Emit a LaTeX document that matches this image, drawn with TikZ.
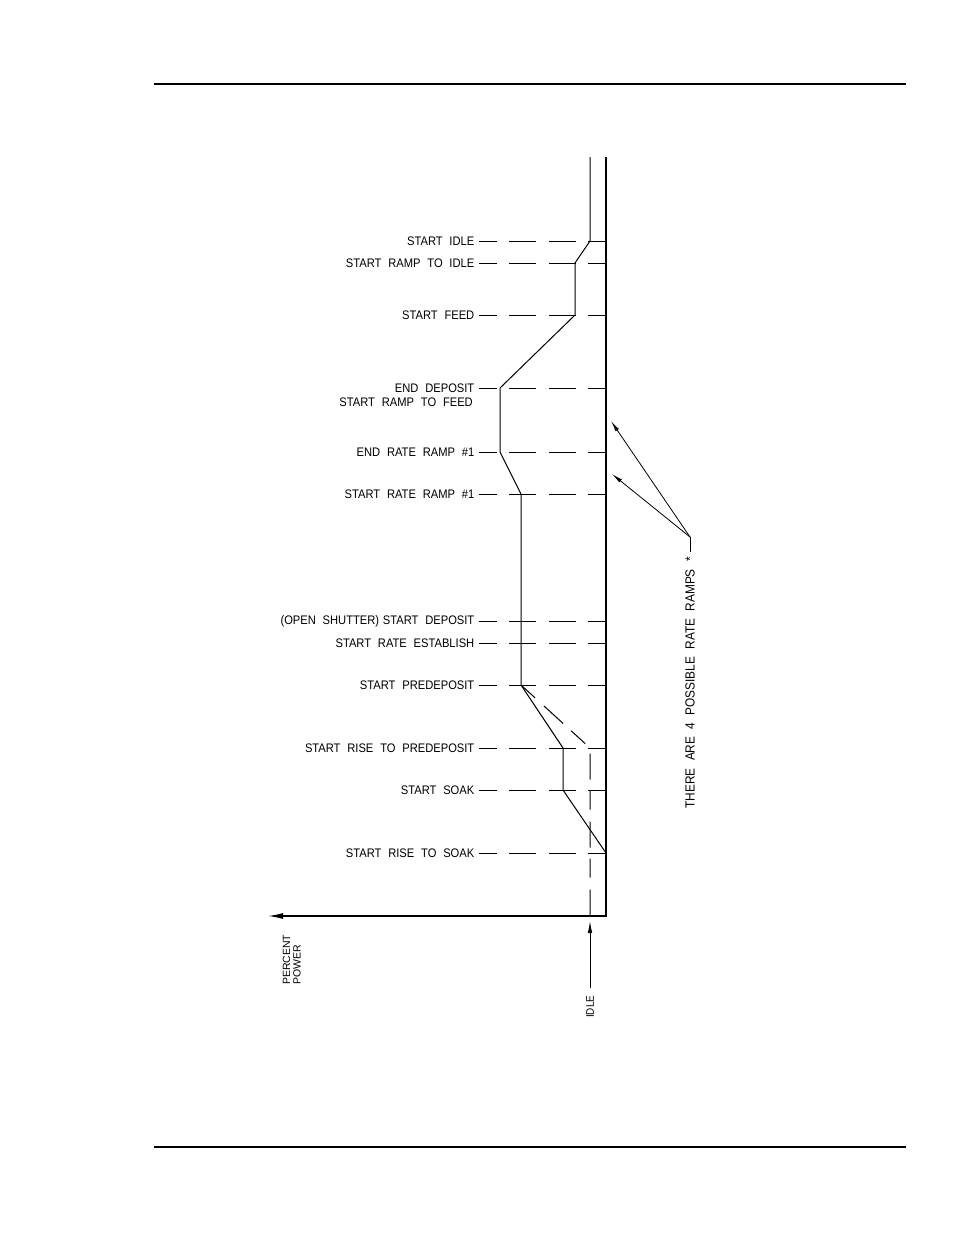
\documentclass[tikz,border=0pt]{standalone}
\usepackage{fontspec}
\setmainfont[FakeStretch=0.9, WordSpace=2.2]{Liberation Sans}
\newfontfamily\plainsans{Liberation Sans}
\usetikzlibrary{arrows.meta}
\begin{document}
\begin{tikzpicture}[x=1pt,y=-1pt,
  lbl/.style={anchor=east, inner sep=0pt, font=\fontsize{12.4}{14}\selectfont},
  rule/.style={line width=2pt},
  curve/.style={line width=1pt, line join=miter},
  axisline/.style={line width=1.4pt},
  guide/.style={line width=1pt, dash pattern=on 18pt off 12pt on 27pt off 13pt on 27pt off 12pt on 20pt},
  hidden/.style={line width=1pt, dash pattern=on 19pt off 12pt on 26pt off 11pt},
  pointer/.style={line width=0.8pt, -{Latex[length=11pt,width=4pt]}},
]
\useasboundingbox (0,0) rectangle (954,1235);
% header / footer rules
\coordinate (h1) at (154,84); \coordinate (h2) at (906,84);
\coordinate (f1) at (154,1147); \coordinate (f2) at (906,1147);
\draw[rule] (h1) -- (h2);
\draw[rule] (f1) -- (f2);

% axes
\coordinate (atop) at (606,157);
\coordinate (acorner) at (606,916);
\coordinate (aleft) at (268,916);
\draw[axisline, -{Latex[length=15pt,width=6pt]}] (atop) -- (acorner) -- (aleft);

% labels and guide lines
\foreach \n/\y/\t in {
  a/241/{START IDLE},
  b/263/{START RAMP TO IDLE},
  c/315/{START FEED},
  d/388/{END DEPOSIT},
  e/452/{END RATE RAMP \#1},
  f/494/{START RATE RAMP \#1},
  g/621/{(OPEN SHUTTER)\hspace{-3pt} START DEPOSIT},
  h/643/{START RATE ESTABLISH},
  i/685/{START PREDEPOSIT},
  j/748/{START RISE TO PREDEPOSIT},
  k/790/{START SOAK},
  l/853/{START RISE TO SOAK}} {
  \node[lbl] (L\n) at (474.5,\y) {\t};
  \coordinate (gs\n) at (479,\y);
  \coordinate (ge\n) at (606,\y);
  \draw[guide] (gs\n) -- (ge\n);
}
\node[lbl] (Ld2) at (473,402) {START RAMP TO FEED};

% power curve
\coordinate (p0) at (590,157);
\coordinate (p1) at (590,241);
\coordinate (p2) at (575,263);
\coordinate (p3) at (575,315);
\coordinate (p4) at (500,388);
\coordinate (p5) at (500,452);
\coordinate (p6) at (521,494);
\coordinate (p7) at (521,685);
\coordinate (p8) at (563,748);
\coordinate (p9) at (563,790);
\coordinate (p10) at (606,853);
\draw[curve] (p0) -- (p1) -- (p2) -- (p3) -- (p4) -- (p5) -- (p6) -- (p7) -- (p8) -- (p9) -- (p10);

% alternate dashed path
\coordinate (q1) at (590,748);
\coordinate (q2) at (590,918);
\draw[hidden] (p7) -- (q1) -- (q2);

% idle arrow
\coordinate (ia) at (590,988);
\coordinate (ib) at (590,921);
\draw[line width=0.9pt, -{Latex[length=12pt,width=4.5pt]}] (ia) -- (ib);
\node[rotate=90, anchor=west, inner sep=0pt, font=\fontsize{11}{12}\selectfont] (idle) at (590,1018) {IDLE};

% percent power
\node[rotate=90, anchor=south west, inner sep=0pt, align=left, font=\plainsans\fontsize{10.5}{10.5}\selectfont] (pp) at (301,985) {PERCENT\\POWER};

% rate ramps note
\coordinate (r0) at (690,552);
\coordinate (r1) at (690,537);
\coordinate (ra1) at (611,421);
\coordinate (ra2) at (612,474);
\draw[line width=0.8pt] (r0) -- (r1);
\draw[pointer] (r1) -- (ra1);
\draw[pointer] (r1) -- (ra2);
\node[rotate=90, anchor=east, inner sep=0pt, font=\fontsize{13.2}{15}\selectfont] (note) at (690,557) {THERE ARE 4 POSSIBLE RATE RAMPS *};
\end{tikzpicture}
\end{document}
